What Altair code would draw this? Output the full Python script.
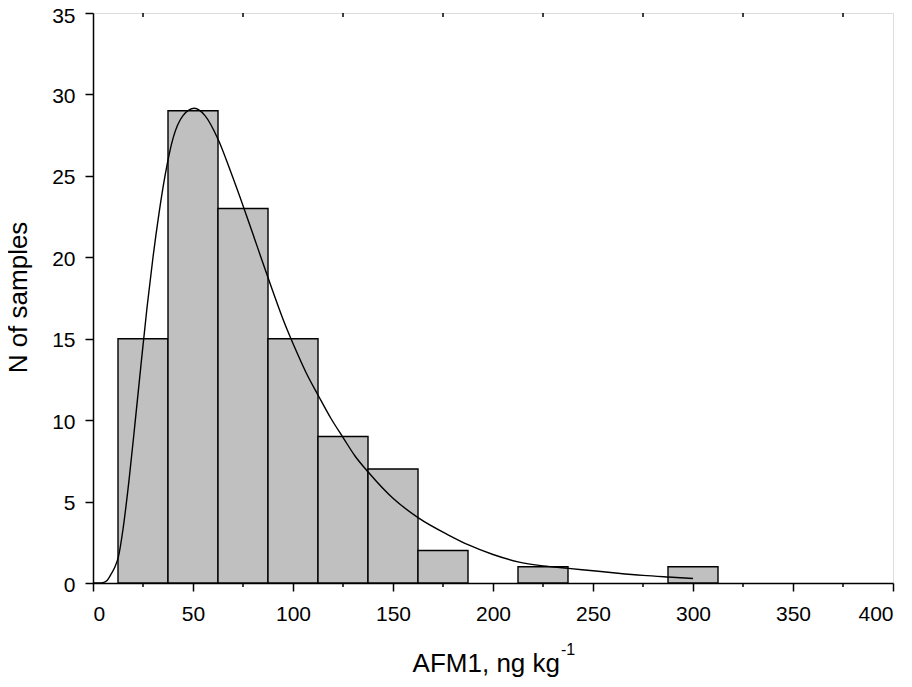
import altair as alt
import pandas as pd

# Histogram bins (AFM1, ng kg-1) and counts
bin_start = [12.5, 37.5, 62.5, 87.5, 112.5, 137.5, 162.5, 212.5, 287.5]
bin_end = [37.5, 62.5, 87.5, 112.5, 137.5, 162.5, 187.5, 237.5, 312.5]
counts = [15, 29, 23, 15, 9, 7, 2, 1, 1]

# Fitted distribution curve
curve_x = [0, 3, 5, 7, 9.3, 11, 12.7, 15, 18, 21, 24, 27, 30, 33, 36, 40,
           45, 50.7, 56, 62.7, 69, 75.5, 82, 88.5, 95, 101.8, 107, 112.7,
           119, 125.2, 131, 137.7, 150, 162.7, 178.5, 187.5, 200, 212.5,
           225, 237.7, 250, 262.5, 275, 287.5, 300]
curve_y = [0, 0, 0.02, 0.15, 0.6, 1.0, 1.6, 3.3, 6.3, 9.8, 13.4, 16.9, 20.0,
           22.7, 25.0, 27.3, 28.7, 29.15, 28.7, 27.2, 25.2, 23.0, 20.7, 18.4,
           16.2, 14.2, 12.8, 11.5, 10.1, 8.9, 7.8, 6.8, 5.2, 4.0, 2.9, 2.35,
           1.75, 1.3, 1.05, 0.9, 0.75, 0.6, 0.47, 0.37, 0.28]

minor_ticks = [25, 75, 125, 175, 225, 275, 325, 375]
x_major = [0, 50, 100, 150, 200, 250, 300, 350, 400]
y_major = [0, 5, 10, 15, 20, 25, 30, 35]

x_title_main = "AFM1, ng kg"
x_title_sup = "-1"
y_title = "N of samples"

W, H = 800, 570
FONT = "Liberation Sans"
TICK_FS = 21
TITLE_FS = 26

bars_df = pd.DataFrame({"start": bin_start, "end": bin_end, "n": counts})
curve_df = pd.DataFrame({"x": curve_x, "y": curve_y})
minor_df = pd.DataFrame({"t": minor_ticks})
title_df = pd.DataFrame({"main": [x_title_main], "sup": [x_title_sup]})

xscale = alt.Scale(domain=[0, 400], nice=False, zero=False)
yscale = alt.Scale(domain=[0, 35], nice=False)

common = dict(grid=False, tickSize=8, labelFont=FONT, titleFont=FONT,
              labelFontSize=TICK_FS, titleFontSize=TITLE_FS,
              titleFontWeight="normal", domainColor="black",
              tickColor="black", domainWidth=1.5, tickWidth=1.5,
              labelColor="black", titleColor="black")

xaxis = alt.Axis(values=x_major, title=None, labelPadding=12, **common)
yaxis = alt.Axis(values=y_major, title=y_title, labelPadding=10,
                 labelOffset={"condition": {"test": "datum.value == 35", "value": 3},
                              "value": 2},
                 titleX=-67, titleY=284, titleBaseline="alphabetic",
                 titleAngle=270, titleAlign="center", **common)

bars = alt.Chart(bars_df).mark_rect(
    fill="#c0c0c0", stroke="black", strokeWidth=1.4
).encode(
    x=alt.X("start:Q", scale=xscale, axis=xaxis),
    x2="end:Q",
    y=alt.Y("n:Q", scale=yscale, axis=yaxis),
    y2=alt.datum(0),
)

curve = alt.Chart(curve_df).mark_line(
    color="black", strokeWidth=1.4, interpolate="monotone"
).encode(
    x=alt.X("x:Q", scale=xscale),
    y=alt.Y("y:Q", scale=yscale),
)

bottom_minor = alt.Chart(minor_df).mark_rule(color="black", strokeWidth=1.5).encode(
    x=alt.X("t:Q", scale=xscale),
    y=alt.value(H),
    y2=alt.value(H + 4),
)

top_minor = alt.Chart(minor_df).mark_rule(color="black", strokeWidth=1.5).encode(
    x=alt.X("t:Q", scale=xscale),
    y=alt.value(0),
    y2=alt.value(4),
)

title_main = alt.Chart(title_df).mark_text(
    font=FONT, fontSize=TITLE_FS, color="black", align="right",
    baseline="alphabetic"
).encode(x=alt.value(467), y=alt.value(659), text="main:N")

title_sup = alt.Chart(title_df).mark_text(
    font=FONT, fontSize=16, color="black", align="left",
    baseline="alphabetic"
).encode(x=alt.value(468), y=alt.value(642), text="sup:N")

chart = alt.layer(bars, curve, bottom_minor, top_minor, title_main, title_sup).properties(
    width=W, height=H,
    autosize=alt.AutoSizeParams(type="none"),
    padding={"left": 85, "top": 5, "right": 11, "bottom": 96},
).configure_view(
    stroke="black", strokeWidth=1.5
).configure(background="white")

chart.save("out.html", embed_options={"renderer": "svg", "actions": False})
